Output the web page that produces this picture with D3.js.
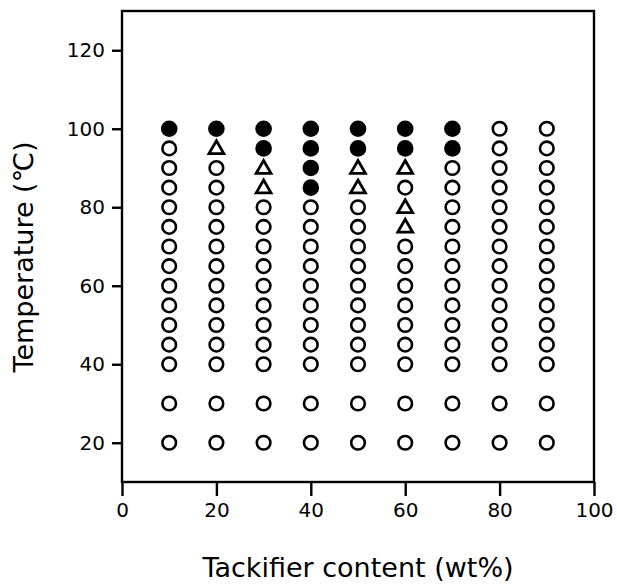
<!DOCTYPE html>
<html>
<head>
<meta charset="utf-8">
<script src="https://cdn.jsdelivr.net/npm/d3@7"></script>
<style>
  body { margin: 0; background: #fff; }
  svg text { font-family: "DejaVu Sans", sans-serif; fill: #000; }
</style>
</head>
<body>
<div id="chart"></div>
<script>
// Tackifier contents (wt%) and measured temperatures (°C)
const contents = [10, 20, 30, 40, 50, 60, 70, 80, 90];
const temps = [20, 30, 40, 45, 50, 55, 60, 65, 70, 75, 80, 85, 90, 95, 100];

// Filled circles
const filledPts = [
  [10, 100], [20, 100], [30, 100], [30, 95],
  [40, 100], [40, 95], [40, 90], [40, 85],
  [50, 100], [50, 95], [60, 100], [60, 95],
  [70, 100], [70, 95]
];
// Open triangles
const trianglePts = [
  [20, 95], [30, 90], [30, 85], [50, 90], [50, 85],
  [60, 90], [60, 80], [60, 75]
];

const xTicks = [0, 20, 40, 60, 80, 100];
const yTicks = [20, 40, 60, 80, 100, 120];

const WIDTH = 617;
const HEIGHT = 584;
const margin = { left: 122, right: 23, top: 11, bottom: 102 };

const xScale = d3.scaleLinear()
                 .domain([0, 100])
                 .range([margin.left, WIDTH - margin.right]);
const yScale = d3.scaleLinear()
                 .domain([10, 130])
                 .range([HEIGHT - margin.bottom, margin.top]);

const svg = d3.select('#chart')
              .append('svg')
              .attr('width', WIDTH)
              .attr('height', HEIGHT);

// Open circles = every grid point not marked otherwise
const key = (c, t) => c + '_' + t;
const marked = new Set(filledPts.concat(trianglePts).map(d => key(d[0], d[1])));
const openPts = [];
contents.forEach(c => temps.forEach(t => {
  if (!marked.has(key(c, t))) openPts.push([c, t]);
}));

svg.selectAll('circle.open')
   .data(openPts)
   .enter()
   .append('circle')
   .attr('class', 'open')
   .attr('cx', d => xScale(d[0]))
   .attr('cy', d => yScale(d[1]))
   .attr('r', 6.8)
   .attr('fill', 'none')
   .attr('stroke', '#000')
   .attr('stroke-width', 2.6);

svg.selectAll('circle.filled')
   .data(filledPts)
   .enter()
   .append('circle')
   .attr('class', 'filled')
   .attr('cx', d => xScale(d[0]))
   .attr('cy', d => yScale(d[1]))
   .attr('r', 8.3)
   .attr('fill', '#000');

const tri = d3.symbol().type(d3.symbolTriangle).size(95);
svg.selectAll('path.tri')
   .data(trianglePts)
   .enter()
   .append('path')
   .attr('class', 'tri')
   .attr('d', tri)
   .attr('transform', d => 'translate(' + xScale(d[0]) + ',' + (yScale(d[1]) + 1) + ')')
   .attr('fill', 'none')
   .attr('stroke', '#000')
   .attr('stroke-width', 2.8)
   .attr('stroke-linejoin', 'miter');

// Frame
svg.append('rect')
   .attr('x', margin.left)
   .attr('y', margin.top)
   .attr('width', WIDTH - margin.left - margin.right)
   .attr('height', HEIGHT - margin.top - margin.bottom)
   .attr('fill', 'none')
   .attr('stroke', '#000')
   .attr('stroke-width', 2.4);

// Axes
const xAxis = d3.axisBottom(xScale).tickValues(xTicks).tickSize(14).tickPadding(7);
const gx = svg.append('g')
   .attr('transform', 'translate(0,' + (HEIGHT - margin.bottom) + ')')
   .call(xAxis)
   .attr('font-size', 20)
   .attr('font-family', 'DejaVu Sans');
gx.select('.domain').remove();
gx.selectAll('line').attr('stroke-width', 2.4);

const yAxis = d3.axisLeft(yScale).tickValues(yTicks).tickSize(10).tickPadding(7);
const gy = svg.append('g')
   .attr('transform', 'translate(' + margin.left + ',0)')
   .call(yAxis)
   .attr('font-size', 20)
   .attr('font-family', 'DejaVu Sans');
gy.select('.domain').remove();
gy.selectAll('line').attr('stroke-width', 2.4);

// Axis titles
svg.append('text')
   .attr('x', (margin.left + WIDTH - margin.right) / 2)
   .attr('y', 577)
   .attr('text-anchor', 'middle')
   .attr('font-size', 27)
   .text('Tackifier content (wt%)');

svg.append('text')
   .attr('transform', 'translate(33,257) rotate(-90)')
   .attr('text-anchor', 'middle')
   .attr('font-size', 27)
   .text('Temperature (℃)');
</script>
</body>
</html>
